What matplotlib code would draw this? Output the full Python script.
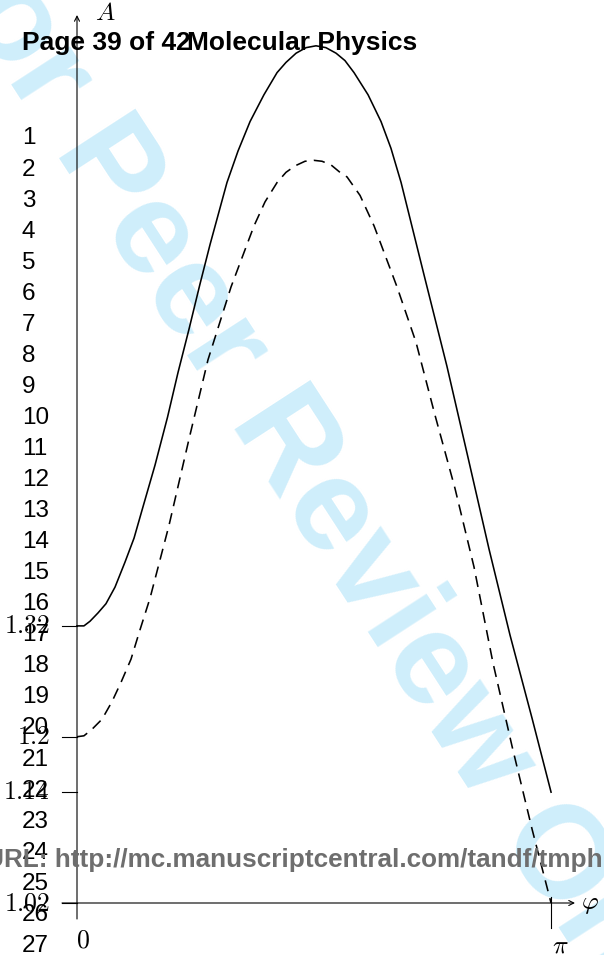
import numpy as np
import matplotlib
matplotlib.use("Agg")
import matplotlib.pyplot as plt

plt.rcParams['mathtext.fontset'] = 'cm'

# ---------------- data ----------------
phi_solid = [0.000, 0.046, 0.086, 0.139, 0.192, 0.252, 0.318, 0.378, 0.434, 0.517,
             0.600, 0.669, 0.742, 0.815, 0.882, 0.994, 1.067, 1.147, 1.239, 1.326,
             1.385, 1.452, 1.518, 1.584, 1.650, 1.717, 1.776, 1.836, 1.929, 2.015,
             2.081, 2.148, 2.300, 2.452, 2.592, 2.731, 2.870, 3.016, 3.142]
A_solid = [1.320, 1.320, 1.325, 1.334, 1.344, 1.362, 1.389, 1.415, 1.447, 1.494,
           1.546, 1.594, 1.641, 1.690, 1.733, 1.800, 1.834, 1.866, 1.895, 1.919,
           1.930, 1.940, 1.946, 1.948, 1.946, 1.940, 1.932, 1.919, 1.895, 1.866,
           1.837, 1.800, 1.700, 1.601, 1.502, 1.403, 1.310, 1.220, 1.140]

phi_dashed = [0.000, 0.046, 0.099, 0.166, 0.232, 0.292, 0.358, 0.418, 0.484, 0.610,
              0.742, 0.868, 1.021, 1.173, 1.246, 1.326, 1.385, 1.445, 1.511, 1.571,
              1.624, 1.684, 1.743, 1.790, 1.876, 1.969, 2.121, 2.247, 2.373, 2.505,
              2.631, 2.757, 2.883, 3.016, 3.142]
A_dashed = [1.200, 1.201, 1.208, 1.219, 1.238, 1.259, 1.284, 1.316, 1.350, 1.429,
            1.522, 1.608, 1.687, 1.753, 1.779, 1.800, 1.811, 1.818, 1.823, 1.824,
            1.823, 1.819, 1.811, 1.806, 1.786, 1.753, 1.687, 1.627, 1.548, 1.469,
            1.384, 1.280, 1.190, 1.100, 1.020]

y_ticks = [1.32, 1.2, 1.14, 1.02]
y_tick_labels = ["$1.32$", "$1.2$", "$1.14$", "$1.02$"]
x_ticks = [0, np.pi]
x_tick_labels = ["$0$", r"$\pi$"]

header_left = "Page 39 of 42"
header_right = "Molecular Physics"
url_text = "URL: http://mc.manuscriptcentral.com/tandf/tmph"
watermark = "For Peer Review Only"
line_numbers = [str(i) for i in range(1, 28)]

# ---------------- layout ----------------
W, H = 604, 955
fig = plt.figure(figsize=(W / 100, H / 100), dpi=100)
ax = fig.add_axes([0, 0, 1, 1])
ax.set_axis_off()
ax.patch.set_visible(False)

x0_px, xpi_px = 77, 551          # pixel columns of phi=0 and phi=pi
yb_px, k = 903, 923.7            # pixel row of A=1.02, pixels per unit A
ppx = np.pi / (xpi_px - x0_px)   # phi per pixel
ax.set_xlim(-x0_px * ppx, (W - x0_px) * ppx)
ax.set_ylim(1.02 - (H - yb_px) / k, 1.02 + yb_px / k)

def fx(px):
    return px / W

def fy(py):
    return 1 - py / H

# watermark (behind everything)
ax.text(fx(316), fy(492), watermark, transform=fig.transFigure, rotation=-57,
        ha='center', va='center', fontsize=95, fontweight='bold',
        family='Liberation Sans', color='#cfeefb', zorder=0, clip_on=False)

# axes arrows
ax.annotate('', xy=(0, 1.02 + 888 / k), xytext=(0, 1.02 - 16 / k),
            arrowprops=dict(arrowstyle='->', lw=0.8, color='black',
                            shrinkA=0, shrinkB=0, mutation_scale=9), zorder=1)
ax.annotate('', xy=((575 - x0_px) * ppx, 1.02), xytext=(-15 * ppx, 1.02),
            arrowprops=dict(arrowstyle='->', lw=0.8, color='black',
                            shrinkA=0, shrinkB=0, mutation_scale=9), zorder=1)

# y ticks
for v, lab in zip(y_ticks, y_tick_labels):
    ax.plot([-15 * ppx, 0], [v, v], color='black', lw=0.8, zorder=1)
    ax.annotate(lab, xy=(0, v), xytext=(-27, 0), textcoords='offset pixels',
                ha='right', va='center', fontsize=18.5, color='black')

# x ticks
ax.plot([x_ticks[1], x_ticks[1]], [1.02 + 6 / k, 1.02 - 25 / k], color='black', lw=0.8, zorder=1)
ax.annotate(x_tick_labels[0], xy=(x_ticks[0], 1.02), xytext=(6, -37),
            textcoords='offset pixels', ha='center', va='center', fontsize=18.5)
ax.annotate(x_tick_labels[1], xy=(x_ticks[1], 1.02), xytext=(9, -42),
            textcoords='offset pixels', ha='center', va='center', fontsize=18.5)

# axis labels
ax.annotate("$A$", xy=(0, 1.02 + 888 / k), xytext=(28, 2), textcoords='offset pixels',
            ha='center', va='center', fontsize=18.5)
ax.annotate(r"$\varphi$", xy=((575 - x0_px) * ppx, 1.02), xytext=(15, 0),
            textcoords='offset pixels', ha='center', va='center', fontsize=18.5)

# curves
ax.plot(phi_solid, A_solid, color='black', lw=1.15, zorder=2,
        solid_joinstyle='round')
ax.plot(phi_dashed, A_dashed, color='black', lw=1.15, zorder=2,
        linestyle=(0, (7, 4.5)))

# page overlays
fig.text(fx(22), fy(50), header_left, ha='left', va='baseline', fontsize=19,
         fontweight='bold', family='Liberation Sans', color='black')
fig.text(fx(187), fy(50), header_right, ha='left', va='baseline', fontsize=19,
         fontweight='bold', family='Liberation Sans', color='black')
for i, s in enumerate(line_numbers):
    fig.text(fx(22), fy(144.5 + i * 31.05), s, ha='left', va='baseline',
             fontsize=17.5, family='Liberation Sans', color='black')
fig.text(fx(-15), fy(867), url_text, ha='left', va='baseline', fontsize=18.8,
         fontweight='bold', family='Liberation Sans', color='#6e6e6e')

fig.savefig("out.png", dpi=100)
